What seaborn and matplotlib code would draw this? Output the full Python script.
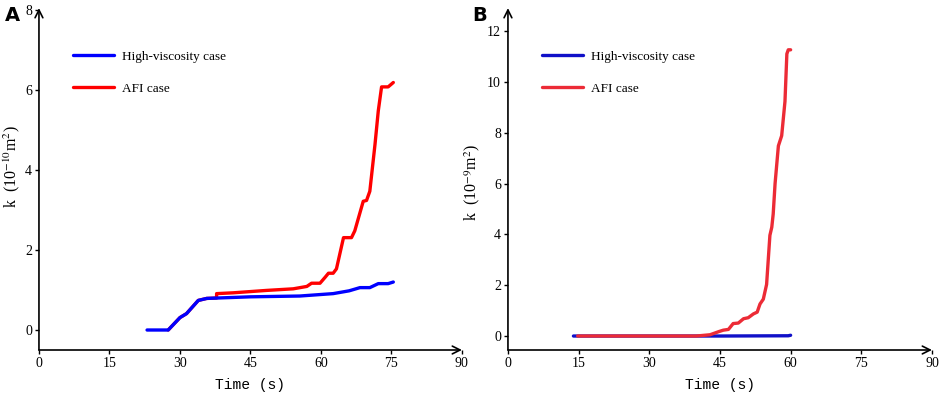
import pandas as pd
import numpy as np
import matplotlib
matplotlib.use("Agg")
import matplotlib.pyplot as plt
import seaborn as sns

# Panel A data (k in 1e-10 m^2)
a_hv_t = [23, 27.5, 30, 31.4, 33.9, 35.7, 45, 55.5, 62.6, 66, 68.3, 70.4, 72.2, 74.3, 75.4]
a_hv_k = [0, 0, 0.31, 0.41, 0.74, 0.79, 0.83, 0.85, 0.91, 0.98, 1.06, 1.06, 1.16, 1.16, 1.2]
a_afi_t = [27.5, 30, 31.4, 33.9, 35.7, 37.8, 37.8, 41.3, 48.4, 54.1, 57, 58, 59.8, 60.9,
           61.6, 62.6, 63.3, 64.8, 66.5, 67.2, 69.0, 69.7, 70.4, 71.5, 72.2, 72.9, 74.3, 75.4]
a_afi_k = [0, 0.31, 0.41, 0.74, 0.79, 0.8, 0.91, 0.93, 0.99, 1.03, 1.09, 1.17, 1.17, 1.32,
           1.42, 1.42, 1.53, 2.31, 2.31, 2.48, 3.22, 3.24, 3.47, 4.64, 5.48, 6.08, 6.08, 6.19]

# Panel B data (k in 1e-9 m^2)
b_hv_t = [13.9, 45, 59.5, 60]
b_hv_k = [0, 0, 0.01, 0.03]
b_afi_t = [14.8, 30, 40, 42.9, 44.7, 45.7, 46.8, 47.8, 48.9, 50, 51, 52.1, 52.9, 53.5, 54.2,
           54.9, 55.6, 56, 56.3, 56.7, 57.4, 58.1, 58.8, 59.2, 59.5, 60]
b_afi_k = [0, 0, 0, 0.05, 0.17, 0.23, 0.26, 0.49, 0.51, 0.68, 0.72, 0.87, 0.94, 1.26, 1.45,
           2.03, 3.96, 4.28, 4.8, 6.0, 7.48, 7.88, 9.23, 11.1, 11.26, 11.26]

x_ticks = [0, 15, 30, 45, 60, 75, 90]
legend_labels = ["High-viscosity case", "AFI case"]

sns.set_style("white")
plt.rcParams['font.family'] = ['Liberation Serif', 'DejaVu Sans']
plt.rcParams['mathtext.fontset'] = 'stix'
for key in ['text.color', 'axes.labelcolor', 'xtick.color', 'ytick.color']:
    plt.rcParams[key] = 'black'

fig = plt.figure(figsize=(9.41, 3.98), dpi=100)
axA = fig.add_axes([0.0414, 0.1206, 0.4495, 0.859])
axB = fig.add_axes([0.5398, 0.1206, 0.4506, 0.859])

lw = 2.4

# A: red below, blue on top
sns.lineplot(x=a_afi_t, y=a_afi_k, ax=axA, color='#ff0000', lw=lw, sort=False, estimator=None)
sns.lineplot(x=a_hv_t, y=a_hv_k, ax=axA, color='#0000ff', lw=lw, sort=False, estimator=None)
hA = [axA.lines[1], axA.lines[0]]

# B: blue below, red on top
sns.lineplot(x=b_hv_t, y=b_hv_k, ax=axB, color='#1010c8', lw=lw, sort=False, estimator=None)
sns.lineplot(x=b_afi_t, y=b_afi_k, ax=axB, color='#ec2b36', lw=lw, sort=False, estimator=None)
hB = [axB.lines[0], axB.lines[1]]

def style(ax, ylim, yticks, ylabel, handles, label_xy):
    ax.set_xlim(0, 90)
    ax.set_ylim(*ylim)
    ax.set_xticks(x_ticks)
    ax.set_yticks(yticks)
    for s in ax.spines.values():
        s.set_visible(False)
    for end in [(1.0, 0), (0, 1.0)]:
        ax.annotate('', xy=end, xytext=(0, 0), xycoords='axes fraction',
                    arrowprops=dict(arrowstyle='->', color='black', lw=1.2, shrinkA=0,
                                    shrinkB=0, mutation_scale=14))
    ax.tick_params(axis='both', direction='out', length=3, width=1, color='black',
                   labelsize=10, pad=2, left=True, bottom=True)
    ax.set_xlabel('Time (s)', family=['Liberation Mono'], fontsize=10.5, labelpad=6)
    ax.set_ylabel(ylabel, fontsize=11.5)
    ax.yaxis.set_label_coords(*label_xy)
    ax.grid(False)
    ax.legend(handles, legend_labels, loc='upper left', bbox_to_anchor=(0.052, 0.91),
              frameon=False, handlelength=3.1, handletextpad=0.6, labelspacing=1.5,
              fontsize=9.5)

style(axA, (-0.5, 8.05), [0, 2, 4, 6, 8], 'k  (10$^{-10}$m$^2$)', hA, (-0.040, 0.535))
style(axB, (-0.55, 12.9), [0, 2, 4, 6, 8, 10, 12], 'k  (10$^{-9}$m$^2$)', hB, (-0.061, 0.49))

fig.text(0.005, 0.962, 'A', fontsize=14, fontweight='bold', family=['DejaVu Sans'], va='center')
fig.text(0.502, 0.962, 'B', fontsize=14, fontweight='bold', family=['DejaVu Sans'], va='center')

fig.savefig('out.png', dpi=100)
